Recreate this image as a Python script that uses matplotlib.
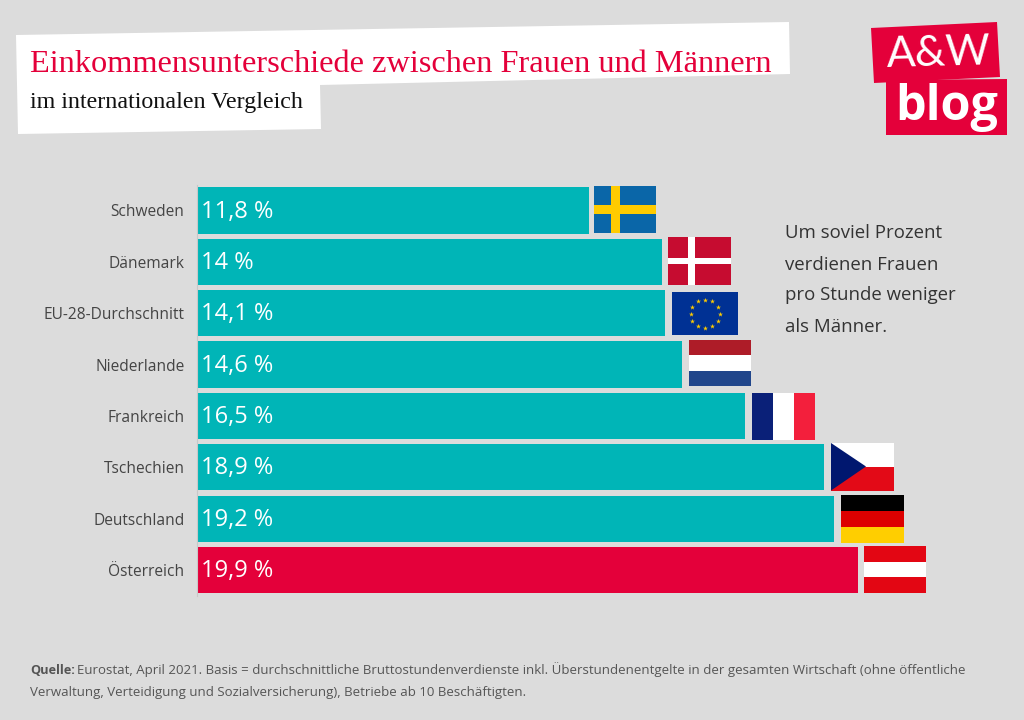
import numpy as np
import matplotlib
matplotlib.use("Agg")
import matplotlib.pyplot as plt
from matplotlib.patches import Polygon, Rectangle

# --- Data ---
countries = ["Schweden", "Dänemark", "EU-28-Durchschnitt", "Niederlande",
             "Frankreich", "Tschechien", "Deutschland", "Österreich"]
gap_percent = [11.8, 14.0, 14.1, 14.6, 16.5, 18.9, 19.2, 19.9]
gap_labels = ["11,8 %", "14 %", "14,1 %", "14,6 %", "16,5 %", "18,9 %", "19,2 %", "19,9 %"]

title = "Einkommensunterschiede zwischen Frauen und Männern"
subtitle = "im internationalen Vergleich"
note_lines = ["Um soviel Prozent", "verdienen Frauen", "pro Stunde weniger", "als Männer."]
source_bold = "Quelle:"
source_line1 = "Eurostat, April 2021. Basis = durchschnittliche Bruttostundenverdienste inkl. Überstundenentgelte in der gesamten Wirtschaft (ohne öffentliche"
source_line2 = "Verwaltung, Verteidigung und Sozialversicherung), Betriebe ab 10 Beschäftigten."

BG = "#dcdcdc"
TEAL = "#00b5b7"
RED = "#e4003a"
SANS = "Open Sans"
SERIF = "Liberation Serif"

W, H = 1024, 720
fig = plt.figure(figsize=(W / 100, H / 100), dpi=100, facecolor=BG)

# overlay in pixel coordinates for the banner, logo and flags
deco = fig.add_axes([0, 0, 1, 1])
deco.set_xlim(0, W)
deco.set_ylim(H, 0)
deco.axis("off")

# --- Bars ---
px_per_unit = 33.2
ax_left, ax_right = 197, 197 + 25 * px_per_unit
ax_top, ax_bottom = 184.8, 595.7
ax = fig.add_axes([ax_left / W, 1 - ax_bottom / H, (ax_right - ax_left) / W, (ax_bottom - ax_top) / H])
ax.patch.set_alpha(0)
y = np.arange(len(countries))
colors = [RED if c == "Österreich" else TEAL for c in countries]
ax.barh(y, gap_percent, height=0.9, color=colors)
ax.set_xlim(0, 25)
ax.set_ylim(len(countries) - 0.5, -0.5)
ax.set_xticks([])
ax.set_yticks(y, countries, fontsize=11.2, color="#444444", family=SANS)
ax.tick_params(axis="y", length=0, pad=9)
for side in ["top", "right", "bottom"]:
    ax.spines[side].set_visible(False)
ax.spines["left"].set_color("#c8c8c8")
for i, lab in enumerate(gap_labels):
    ax.text(0.12, i + 0.02, lab, color="white", fontsize=17, family=SANS, va="center", ha="left")


# --- Flags ---
def stripes_h(x, y, w, h, cols):
    for i, c in enumerate(cols):
        deco.add_patch(Rectangle((x, y + i * h / len(cols)), w, h / len(cols), color=c, lw=0))


def stripes_v(x, y, w, h, cols):
    for i, c in enumerate(cols):
        deco.add_patch(Rectangle((x + i * w / len(cols), y), w / len(cols), h, color=c, lw=0))


def cross(x, y, w, h, base, col, vx, vw, hy, hh):
    deco.add_patch(Rectangle((x, y), w, h, color=base, lw=0))
    deco.add_patch(Rectangle((x + vx, y), vw, h, color=col, lw=0))
    deco.add_patch(Rectangle((x, y + hy), w, hh, color=col, lw=0))


cross(594, 186, 62, 47, "#0a66a8", "#ffcb00", 17, 9, 18.5, 9.5)
cross(668, 237, 63, 48, "#c60c30", "#ffffff", 20, 7, 20.5, 6.5)

deco.add_patch(Rectangle((672, 292), 66, 43, color="#003194", lw=0))
angles = np.arange(12) * np.pi / 6
deco.scatter(705 + 14.5 * np.cos(angles), 313.5 + 14 * np.sin(angles), marker="*", s=14, color="#ffcc00", lw=0)

stripes_h(689, 340, 62, 46, ["#ae1c28", "#ffffff", "#21468b"])
stripes_v(752, 393, 63, 47, ["#0a2078", "#ffffff", "#f31f3c"])

deco.add_patch(Rectangle((831, 443), 63, 24, color="#ffffff", lw=0))
deco.add_patch(Rectangle((831, 466.5), 63, 24, color="#e30a17", lw=0))
deco.add_patch(Polygon([(831, 443), (866, 466.5), (831, 490.5)], color="#00176f", lw=0))

stripes_h(841, 495, 63, 48, ["#000000", "#dd0000", "#ffce00"])
stripes_h(864, 546, 62, 47, ["#e30613", "#ffffff", "#e30613"])

# --- Title banner ---
deco.add_patch(Polygon([(16, 35), (789, 22), (790, 74), (320, 85), (321, 129), (18, 134)],
                       color="white", lw=0))
deco.text(30, 72, title, color=RED, fontsize=23.3, family=SERIF, va="baseline")
deco.text(30, 108, subtitle, color="#111111", fontsize=17.3, family=SERIF, va="baseline")

# --- Logo ---
deco.add_patch(Polygon([(871, 28), (997, 22), (1000, 77), (874, 83)], color=RED, lw=0))
deco.add_patch(Polygon([(886, 80), (1007, 79), (1007, 135), (886, 135)], color=RED, lw=0))
deco.text(939, 54, "A&W", color="white", fontsize=31, family="Lato",
          va="center", ha="center", rotation=1.5)
deco.text(947, 107, "blog", color="white", fontsize=35, family="Open Sans", weight="bold",
          va="center", ha="center")

# --- Note ---
for i, line in enumerate(note_lines):
    deco.text(785, 233.5 + i * 31, line, color="#333333", fontsize=13.45, family=SANS, va="center")

# --- Source ---
deco.text(30, 674, source_bold, color="#555555", fontsize=9.2, family=SANS, weight="bold", va="baseline")
deco.text(77, 674, source_line1, color="#555555", fontsize=9.5, family=SANS, va="baseline")
deco.text(30, 696, source_line2, color="#555555", fontsize=9.5, family=SANS, va="baseline")

fig.savefig("out.png", dpi=100, facecolor=BG)
